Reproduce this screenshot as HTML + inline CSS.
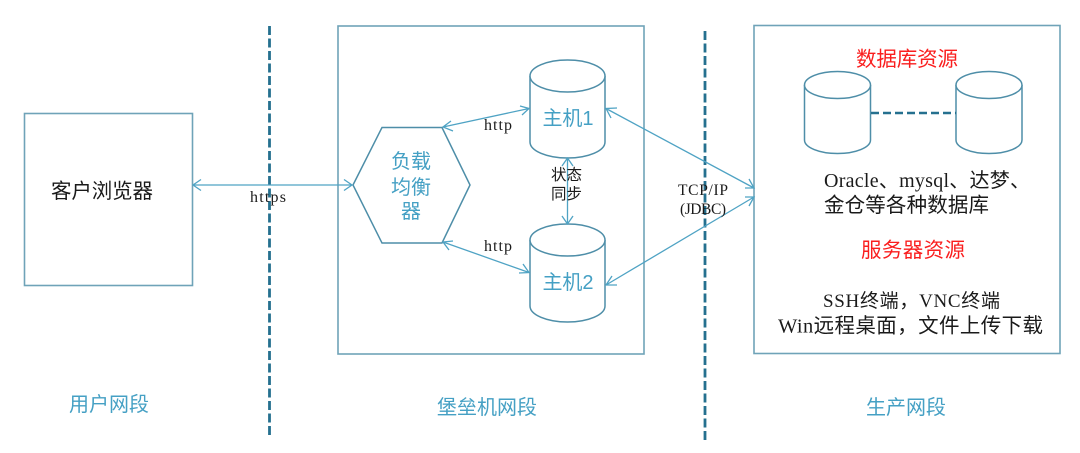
<!DOCTYPE html>
<html><head><meta charset="utf-8">
<style>
html,body{margin:0;padding:0;background:#fff}
svg{display:block}
text{font-family:"Liberation Serif","Noto Sans CJK SC",sans-serif}
.c{font-family:"Liberation Sans","Noto Sans CJK SC",sans-serif}
.box{fill:none;stroke:#6fa3b8;stroke-width:1.6}
.cy{fill:#fff;stroke:#4e8ea8;stroke-width:1.5}
.ar{fill:none;stroke:#4fa3c4;stroke-width:1.3}
.dash{stroke:#25708f;stroke-width:2.8;stroke-dasharray:9 3.5;fill:none}
.blue{fill:#45a0c4}
.blk{fill:#1a1a1a}
.red{fill:#fa1e1e}
</style></head>
<body>
<svg width="1080" height="453" viewBox="0 0 1080 453" xmlns="http://www.w3.org/2000/svg">
<rect class="box" x="24.5" y="113.5" width="168" height="172"/>
<rect class="box" x="338" y="26" width="306" height="328"/>
<rect class="box" x="754" y="25.5" width="306" height="328"/>
<path class="dash" d="M269.5 26V437"/>
<path class="dash" d="M705 31V442"/>

<path class="cy" d="M530 76a37.5 16 0 0 1 75 0V142a37.5 16 0 0 1-75 0Z"/>
<path class="cy" d="M530 76a37.5 16 0 0 0 75 0"/>
<path class="cy" d="M530 240a37.5 16 0 0 1 75 0V306a37.5 16 0 0 1-75 0Z"/>
<path class="cy" d="M530 240a37.5 16 0 0 0 75 0"/>
<polygon class="cy" points="353,185 382,127.5 442,127.5 470,185 442,243 382,243"/>

<path class="cy" d="M804.5 85a33 13.5 0 0 1 66 0V140a33 13.5 0 0 1-66 0Z"/>
<path class="cy" d="M804.5 85a33 13.5 0 0 0 66 0"/>
<path class="cy" d="M956 85a33 13.5 0 0 1 66 0V140a33 13.5 0 0 1-66 0Z"/>
<path class="cy" d="M956 85a33 13.5 0 0 0 66 0"/>
<path d="M871 113H956" stroke="#25708f" stroke-width="2.4" stroke-dasharray="8 4" fill="none"/>

<!-- connectors -->
<path class="ar" d="M193 185H352M201 179.5L193 185L201 190.5M344 179.5L352 185L344 190.5"/>
<path class="ar" d="M443 127L529 108.500M451 121L443 127L453 131M520 106L529 108.500L522 115"/>
<path class="ar" d="M443 242L529 272.500M453 241L443 242L449 250M519 273L529 272.500L523 264"/>
<path class="ar" d="M567.500 158V224M562 166L567.500 158L573 166M562 216L567.500 224L573 216"/>
<path class="ar" d="M606 108.500L754 188M611 118L606 108.500L617 108M745 188L754 188L749 179"/>
<path class="ar" d="M606 285L754 197M617 285L606 285L612 276M745 197L754 197L749 206"/>

<!-- labels with black text -->
<text class="c blk" x="51" y="198" font-size="20.500" textLength="102" lengthAdjust="spacing">客户浏览器</text>
<text class="blk" x="250" y="202" font-size="16" textLength="36" lengthAdjust="spacing">https</text>
<text class="blk" x="484" y="130" font-size="16" textLength="28" lengthAdjust="spacing">http</text>
<text class="blk" x="484" y="251" font-size="16" textLength="28" lengthAdjust="spacing">http</text>
<text class="c blk" x="566.500" y="180" font-size="15.500" text-anchor="middle">状态</text>
<text class="c blk" x="566.500" y="199" font-size="15.500" text-anchor="middle">同步</text>
<text class="blk" x="678" y="195" font-size="15.500" textLength="50" lengthAdjust="spacing">TCP/IP</text>
<text class="blk" x="680" y="214" font-size="15.500" textLength="46" lengthAdjust="spacing">(JDBC)</text>

<text class="c blue" x="411" y="168" font-size="20" text-anchor="middle">负载</text>
<text class="c blue" x="411" y="194" font-size="20" text-anchor="middle">均衡</text>
<text class="c blue" x="411" y="218" font-size="20" text-anchor="middle">器</text>
<text class="c blue" x="568" y="125" font-size="20" text-anchor="middle">主机1</text>
<text class="c blue" x="568" y="289" font-size="20" text-anchor="middle">主机2</text>

<text class="c blue" x="109" y="411" font-size="20" text-anchor="middle">用户网段</text>
<text class="c blue" x="487" y="414" font-size="20" text-anchor="middle">堡垒机网段</text>
<text class="c blue" x="906" y="414" font-size="20" text-anchor="middle">生产网段</text>

<text class="c red" x="856" y="66" font-size="20.500" textLength="102" lengthAdjust="spacing">数据库资源</text>
<text class="c red" x="861" y="257" font-size="20.500" textLength="104" lengthAdjust="spacing">服务器资源</text>

<text class="blk" x="824" y="187" font-size="20" textLength="206" lengthAdjust="spacing">Oracle、mysql、达梦、</text>
<text class="blk" x="824" y="212" font-size="20.500" textLength="165" lengthAdjust="spacing">金仓等各种数据库</text>
<text class="blk" x="823" y="307" font-size="19" textLength="177" lengthAdjust="spacing">SSH终端，VNC终端</text>
<text class="blk" x="778" y="332.500" font-size="20.500" textLength="265" lengthAdjust="spacing">Win远程桌面，文件上传下载</text>
</svg>
</body></html>
